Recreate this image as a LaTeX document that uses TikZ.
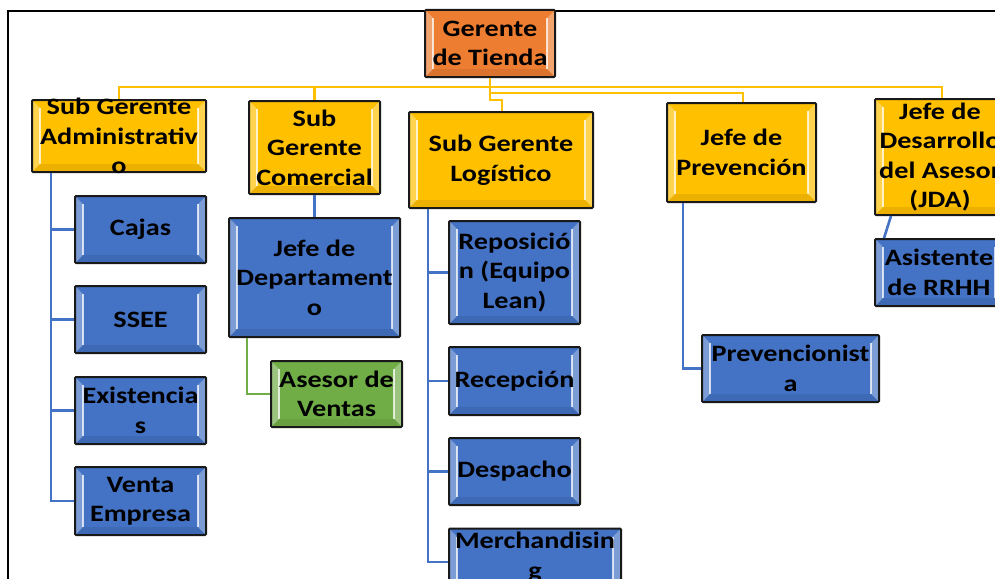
\documentclass[tikz,border=0pt]{standalone}
\usepackage{fontspec}
\setmainfont{Carlito}[FakeStretch=1.2]
\usepackage{tikz}

\definecolor{orgorange}{HTML}{ED7D31}
\definecolor{orggold}{HTML}{FFC000}
\definecolor{orgblue}{HTML}{4472C4}
\definecolor{orggreen}{HTML}{70AD47}

\tikzset{
  bevel/.style={path picture={
    \fill[white,opacity=0.3] (path picture bounding box.north west) -- (path picture bounding box.south west)
      -- ([shift={(8pt,8pt)}]path picture bounding box.south west) -- ([shift={(8pt,-8pt)}]path picture bounding box.north west) -- cycle;
    \fill[white,opacity=0.3] (path picture bounding box.north east) -- (path picture bounding box.south east)
      -- ([shift={(-8pt,8pt)}]path picture bounding box.south east) -- ([shift={(-8pt,-8pt)}]path picture bounding box.north east) -- cycle;
    \fill[black,opacity=0.08] (path picture bounding box.south west) -- (path picture bounding box.south east)
      -- ([shift={(-8pt,8pt)}]path picture bounding box.south east) -- ([shift={(8pt,8pt)}]path picture bounding box.south west) -- cycle;
    \draw[white,opacity=0.75,line width=1.3pt] ([shift={(8pt,-8pt)}]path picture bounding box.north west) -- ([shift={(8pt,8pt)}]path picture bounding box.south west);
    \draw[white,opacity=0.75,line width=1.3pt] ([shift={(-8pt,-8pt)}]path picture bounding box.north east) -- ([shift={(-8pt,8pt)}]path picture bounding box.south east);
  }},
  orgbox/.style={draw=black!90, line width=2pt, rounded corners=1pt, inner sep=0pt, bevel},
  topbox/.style={orgbox, fill=orgorange},
  goldbox/.style={orgbox, fill=orggold},
  bluebox/.style={orgbox, fill=orgblue},
  greenbox/.style={orgbox, fill=orggreen},
  txt/.style={align=center, inner sep=0pt, text=black,
    font=\bfseries\fontsize{23.5}{29.5}\selectfont},
  yline/.style={draw=orggold, line width=2.6pt},
  bline/.style={draw=orgblue, line width=2.6pt},
  gline/.style={draw=orggreen, line width=2.6pt}
}

\begin{document}
\begin{tikzpicture}[x=1pt,y=-1pt]
  \useasboundingbox (0,0) rectangle (995,578);
  \clip (0,0) rectangle (995,578);
  \draw[line width=1.6pt] (8,11) rectangle (1010,600);

  % top and second level
  \node[topbox, minimum width=130pt, minimum height=67pt, label={[txt]center:{Gerente\\de Tienda}}] (top) at (490,43.5) {};
  \node[goldbox, minimum width=174pt, minimum height=72pt, label={[txt]center:{Sub Gerente\\Administrativ\\o}}] (adm) at (119,136) {};
  \node[goldbox, minimum width=131pt, minimum height=93pt, label={[txt]center:{Sub\\Gerente\\Comercial}}] (com) at (314.5,147.5) {};
  \node[goldbox, minimum width=184pt, minimum height=96pt, label={[txt]center:{Sub Gerente\\Logístico}}] (log) at (501,160) {};
  \node[goldbox, minimum width=149pt, minimum height=99pt, label={[txt]center:{Jefe de\\Prevención}}] (prev) at (741.5,152.5) {};
  \node[goldbox, minimum width=130pt, minimum height=116pt, label={[txt]center:{Jefe de\\Desarrollo\\del Asesor\\(JDA)}}] (jda) at (940,157) {};

  % administrativo
  \node[bluebox, minimum width=131pt, minimum height=67pt, label={[txt]center:Cajas}] (cajas) at (140.5,229.5) {};
  \node[bluebox, minimum width=131pt, minimum height=67pt, label={[txt]center:SSEE}] (ssee) at (140.5,319.5) {};
  \node[bluebox, minimum width=131pt, minimum height=67pt, label={[txt]center:{Existencia\\s}}] (exist) at (140.5,410.5) {};
  \node[bluebox, minimum width=131pt, minimum height=68pt, label={[txt]center:{Venta\\Empresa}}] (venta) at (140.5,501) {};

  % comercial
  \node[bluebox, minimum width=171pt, minimum height=119pt, label={[txt]center:{Jefe de\\Departament\\o}}] (jdep) at (314.5,277.5) {};
  \node[greenbox, minimum width=131pt, minimum height=66pt, label={[txt]center:{Asesor de\\Ventas}}] (asesor) at (336.5,394) {};

  % logistico
  \node[bluebox, minimum width=131pt, minimum height=103pt, label={[txt]center:{Reposició\\n (Equipo\\Lean)}}] (repo) at (514.5,272.5) {};
  \node[bluebox, minimum width=131pt, minimum height=68pt, label={[txt]center:Recepción}] (recep) at (514.5,381) {};
  \node[bluebox, minimum width=131pt, minimum height=67pt, label={[txt]center:Despacho}] (desp) at (514.5,471.5) {};
  \node[bluebox, minimum width=172pt, minimum height=67pt, label={[txt,yshift=5pt]center:{Merchandisin\\g}}] (merch) at (535,562) {};

  % prevencion y JDA
  \node[bluebox, minimum width=177pt, minimum height=67pt, label={[txt]center:{Prevencionist\\a}}] (prevta) at (790.5,368.5) {};
  \node[bluebox, minimum width=128pt, minimum height=67pt, label={[txt]center:{Asistente\\de RRHH}}] (asis) at (939,272.5) {};

  % connectors
  \draw[yline] (top.south) -- ++(0,9) -| ([xshift=2pt]jda.north);
  \draw[yline] (top.south) -- ++(0,15) -| ([xshift=1.5pt]prev.north);
  \draw[yline] (top.south) |- ([yshift=12pt]adm.north) -- (adm.north);
  \draw[yline] (com.north) -- ++(0,-13);
  \draw[yline] (top.south) -- ++(0,22) -| ([xshift=1pt]log.north);

  \foreach \child in {cajas,ssee,exist,venta}
    \draw[bline] ([xshift=-68pt]adm.south) |- (\child.west);
  \draw[bline] (com.south) -- (jdep.north);
  \draw[gline] ([xshift=-67.5pt]jdep.south) |- (asesor.west);
  \foreach \child in {repo,recep,desp,merch}
    \draw[bline] ([xshift=-73pt]log.south) |- (\child.west);
  \draw[bline] ([xshift=-58.5pt]prev.south) |- (prevta.west);
  \draw[bline] ([xshift=-49pt]jda.south) -- ([xshift=-55pt]asis.north);
\end{tikzpicture}
\end{document}
